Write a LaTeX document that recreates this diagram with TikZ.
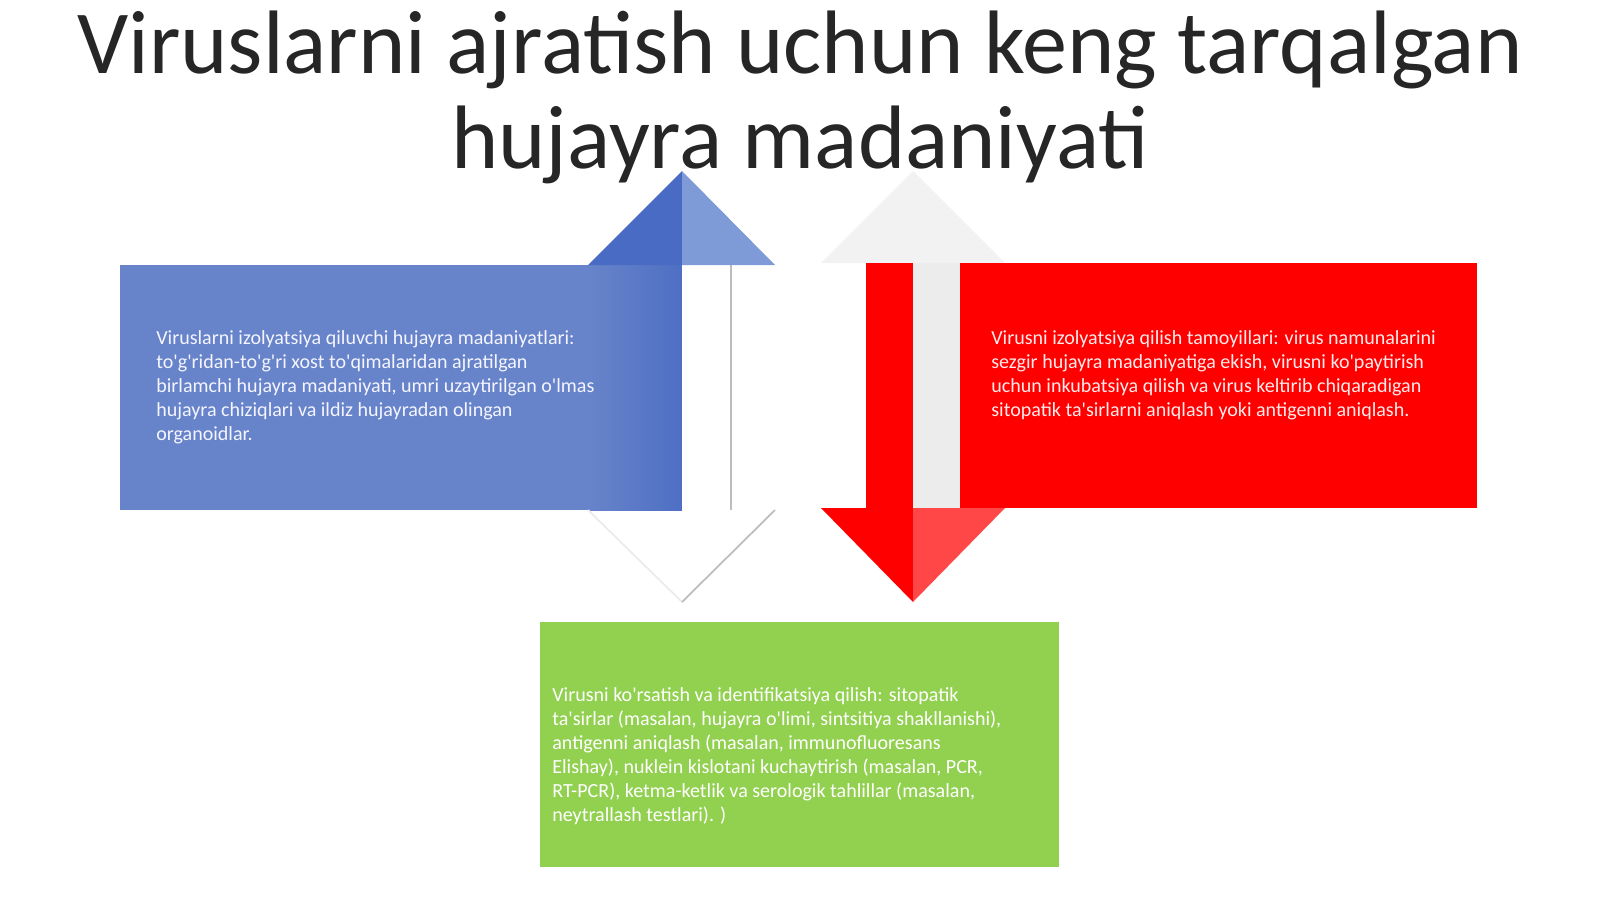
\documentclass[tikz,border=0pt]{standalone}
\usepackage{fontspec}
\setmainfont{Carlito}[Ligatures=TeXOff]
\definecolor{titlegray}{HTML}{262626}
\definecolor{bluepanel}{HTML}{6783C9}
\definecolor{blueshaft}{HTML}{4E6FC4}
\definecolor{bluehead}{HTML}{4A6BC3}
\definecolor{bluelight}{HTML}{7F9BD7}
\definecolor{redpanel}{HTML}{FF0000}
\definecolor{redlight}{HTML}{FF4747}
\definecolor{greenpanel}{HTML}{92D050}
\definecolor{shaftgray}{HTML}{ECECEC}
\definecolor{headgray}{HTML}{F2F2F2}
\definecolor{edgegray}{HTML}{BDBDBD}
\begin{document}
\begin{tikzpicture}
		[
		x=0.02cm, y=-0.02cm,
		body/.style={
		anchor=north west,
		align=left,
		inner sep=0pt,
		font=\fontsize{11.4}{13.65}\selectfont},
		header/.style={
		anchor=north,
		align=center,
		inner sep=0pt,
		text=titlegray,
		font=\fontsize{51.3}{54}\selectfont}
		]
		\useasboundingbox (0,0) rectangle (1600,899);
		\fill[bluepanel] (120,265) rectangle (682,510);
		\shade[left color=bluepanel, right color=blueshaft] (590,265) rectangle (682,510);
		\fill[white] (682,265) rectangle (731,510);
		\draw[edgegray, line width=1.2pt] (731,265) -- (731,510);
		\fill[bluehead] (588,265) -- (682,171) -- (682,265) -- cycle;
		\fill[bluelight] (682,171) -- (775,265) -- (682,265) -- cycle;
		\draw[black!8, line width=1pt] (588,510) -- (682,602);
		\draw[edgegray, line width=1pt] (682,602) -- (775,510);
		\fill[headgray] (821,263) -- (913,171) -- (1005,263) -- cycle;
		\fill[redpanel] (866,263) rectangle (913,508);
		\fill[shaftgray] (913,263) rectangle (960,508);
		\fill[redpanel] (960,263) rectangle (1477,508);
		\fill[redpanel] (821,508) -- (913,508) -- (913,602) -- cycle;
		\fill[redlight] (913,508) -- (1005,508) -- (913,602) -- cycle;
		\fill[greenpanel] (540,622) rectangle (1059,867);
		\node[header] (title) at (800,11) {Viruslarni ajratish uchun keng tarqalgan\\hujayra madaniyati};
		\node[body, text=blue!4] (bluetext) at (156,330) {Viruslarni izolyatsiya qiluvchi hujayra madaniyatlari:\\
		to'g'ridan-to'g'ri xost to'qimalaridan ajratilgan\\
		birlamchi hujayra madaniyati, umri uzaytirilgan o'lmas\\
		hujayra chiziqlari va ildiz hujayradan olingan\\
		organoidlar.};
		\node[body, text=red!8] (redtext) at (991,330) {Virusni izolyatsiya qilish tamoyillari: virus namunalarini\\
		sezgir hujayra madaniyatiga ekish, virusni ko'paytirish\\
		uchun inkubatsiya qilish va virus keltirib chiqaradigan\\
		sitopatik ta'sirlarni aniqlash yoki antigenni aniqlash.};
		\node[body, text=white] (greentext) at (552,687) {Virusni ko'rsatish va identifikatsiya qilish: sitopatik\\
		ta'sirlar (masalan, hujayra o'limi, sintsitiya shakllanishi),\\
		antigenni aniqlash (masalan, immunofluoresans\\
		Elishay), nuklein kislotani kuchaytirish (masalan, PCR,\\
		RT-PCR), ketma-ketlik va serologik tahlillar (masalan,\\
		neytrallash testlari). )};
		\end{tikzpicture}
\end{document}
